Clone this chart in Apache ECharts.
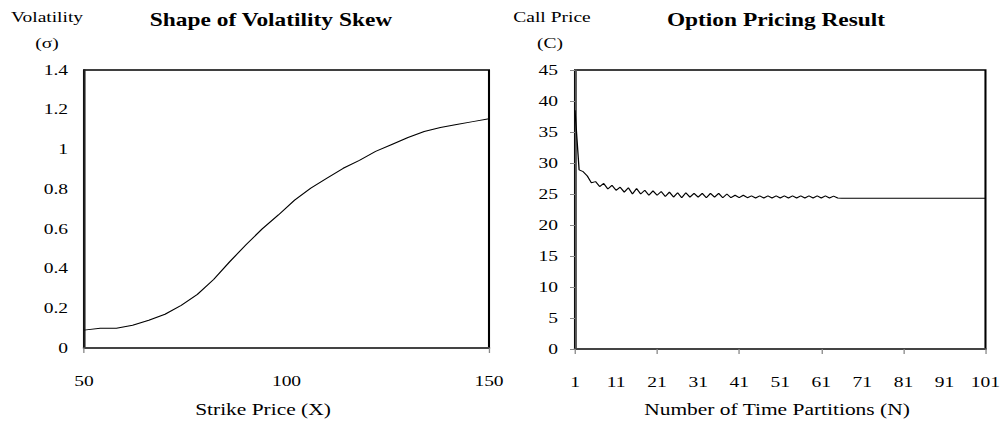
<!DOCTYPE html>
<html>
<head>
<meta charset="utf-8">
<script src="https://cdn.jsdelivr.net/npm/echarts@6/dist/echarts.min.js"></script>
<style>
html,body{margin:0;padding:0;background:#fff;overflow:hidden;width:1004px;height:423px;}
#c{height:423px;transform-origin:0 0;}
</style>
</head>
<body>
<div id="c"></div>
<script>
// Left chart: volatility skew
var strikes = [50,54,58,62,66,70,74,78,82,86,90,94,98,102,106,110,114,118,122,126,130,134,138,142,146,150];
var sigmas  = [0.09,0.10,0.10,0.115,0.14,0.17,0.215,0.27,0.345,0.435,0.52,0.60,0.67,0.745,0.805,0.855,0.905,0.945,0.99,1.025,1.06,1.09,1.11,1.125,1.14,1.155];

// Right chart: option pricing result vs N = 1..101
var partitions = [];
for (var i = 1; i <= 101; i++) partitions.push(String(i));
var callPrices = [
 38.5,28.9,28.6,27.9,26.8,27.0,26.2,26.7,25.8,26.4,
 25.6,26.1,25.3,26.0,25.0,25.9,25.0,25.6,24.8,25.5,
 24.8,25.4,24.6,25.3,24.5,25.2,24.4,25.2,24.5,25.1,
 24.5,25.1,24.4,25.1,24.5,25.1,24.4,25.0,24.4,24.8,
 24.4,24.8,24.4,24.7,24.35,24.7,24.35,24.7,24.35,24.7,
 24.35,24.7,24.35,24.7,24.35,24.7,24.35,24.7,24.35,24.7,
 24.35,24.7,24.35,24.65,24.35,24.3,24.3,24.3,24.3,24.3,
 24.3,24.3,24.3,24.3,24.3,24.3,24.3,24.3,24.3,24.3,
 24.3,24.3,24.3,24.3,24.3,24.3,24.3,24.3,24.3,24.3,
 24.3,24.3,24.3,24.3,24.3,24.3,24.3,24.3,24.3,24.3,
 24.3
];

// The reference text is horizontally widened; render at a narrower width and stretch.
var S = 1.3;
var W = 1004 / S;
var el = document.getElementById('c');
el.style.width = W + 'px';
el.style.transform = 'scaleX(' + S + ')';
function X(v){ return v / S; }

var FONT = '"Liberation Serif","Times New Roman",serif';
var chart = echarts.init(el, null, {renderer:'svg', width:W, height:423});
var labelStyle = {color:'#000', fontFamily:FONT, fontSize:15};

function txt(x, y, s, size, bold){
  return {type:'text', x:X(x), y:y, style:{text:s, fill:'#000', font:(bold?'bold ':'')+size+'px '+FONT, textAlign:'center', textVerticalAlign:'middle'}};
}

chart.setOption({
  animation:false,
  grid:[
    {left:X(84), right:W - X(489), top:70, bottom:75, show:true, borderColor:'#000', borderWidth:1.6},
    {left:X(575), right:W - X(986), top:70, bottom:74, show:true, borderColor:'#000', borderWidth:1.6}
  ],
  xAxis:[
    {gridIndex:0, type:'value', min:50, max:150, interval:50,
     axisLine:{lineStyle:{color:'#444', width:2}},
     axisTick:{show:true, length:5, lineStyle:{color:'#888'}, customValues:[50,150]},
     axisLabel:Object.assign({margin:26}, labelStyle),
     splitLine:{show:false}},
    {gridIndex:1, type:'category', data:partitions, boundaryGap:false,
     axisLine:{lineStyle:{color:'#444', width:2}},
     axisTick:{show:true, length:5, interval:19, lineStyle:{color:'#888'}},
     axisLabel:Object.assign({margin:26, interval:9}, labelStyle),
     splitLine:{show:false}}
  ],
  yAxis:[
    {gridIndex:0, type:'value', min:0, max:1.4, interval:0.2,
     axisLine:{show:true, lineStyle:{color:'#222', width:1.6}},
     axisTick:{show:false},
     axisLabel:Object.assign({margin:X(16)}, labelStyle),
     splitLine:{show:false}},
    {gridIndex:1, type:'value', min:0, max:45, interval:5,
     axisLine:{show:true, lineStyle:{color:'#555', width:1.6}},
     axisTick:{show:true, length:X(5), lineStyle:{color:'#888'}},
     axisLabel:Object.assign({margin:X(17)}, labelStyle),
     splitLine:{show:false}}
  ],
  series:[
    {type:'line', xAxisIndex:0, yAxisIndex:0, showSymbol:false, smooth:false,
     data:strikes.map(function(s,i){return [s, sigmas[i]];}),
     lineStyle:{color:'#000', width:1}},
    {type:'line', xAxisIndex:1, yAxisIndex:1, showSymbol:false, smooth:false,
     data:callPrices, lineStyle:{color:'#000', width:1}}
  ],
  graphic:[
    txt(271, 20, 'Shape of Volatility Skew', 18, true),
    txt(776, 20, 'Option Pricing Result', 18, true),
    txt(47, 17, 'Volatility', 15, false),
    txt(47, 43, '(\u03c3)', 15, false),
    txt(552, 17, 'Call Price', 15, false),
    txt(550, 43, '(C)', 15, false),
    txt(263, 409, 'Strike Price (X)', 16.5, false),
    txt(777, 409, 'Number of Time Partitions (N)', 16.5, false)
  ]
});
</script>
</body>
</html>
